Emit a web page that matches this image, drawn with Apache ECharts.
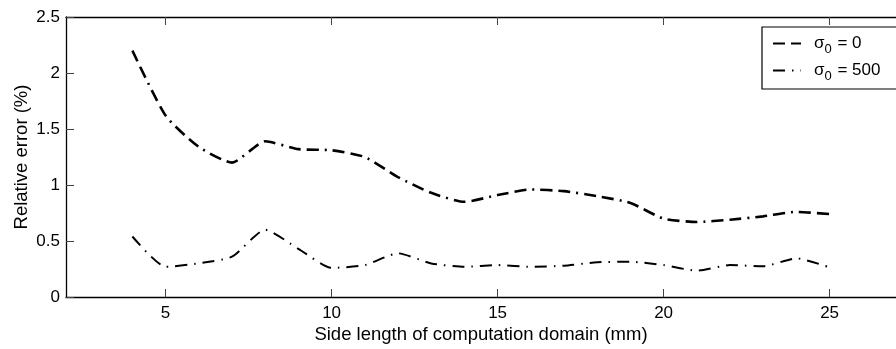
<!DOCTYPE html>
<html>
<head>
<meta charset="utf-8">
<script src="https://cdn.jsdelivr.net/npm/echarts@6/dist/echarts.min.js"></script>
<style>
  html, body { margin: 0; padding: 0; background: #fff; }
  #chart { width: 896px; height: 349px; }
</style>
</head>
<body>
<div id="chart"></div>
<script>
// side length of computation domain (mm)
const sideLength = [4, 5, 6, 7, 8, 9, 10, 11, 12, 13, 14, 15, 16, 17, 18, 19, 20, 21, 22, 23, 24, 25]
// relative error (%) for sigma0 = 0
const errSigma0 = [2.2, 1.62, 1.34, 1.2, 1.39, 1.32, 1.31, 1.25, 1.07, 0.93, 0.85, 0.91, 0.96, 0.945, 0.9, 0.84, 0.7, 0.67, 0.69, 0.72, 0.76, 0.74]
// relative error (%) for sigma0 = 500
const errSigma500 = [0.54, 0.27, 0.3, 0.36, 0.6, 0.43, 0.26, 0.285, 0.39, 0.3, 0.27, 0.285, 0.27, 0.28, 0.31, 0.315, 0.285, 0.235, 0.285, 0.275, 0.345, 0.265]
const xTicks = [5, 10, 15, 20, 25]
const legendNames = ['σ0 = 0', 'σ0 = 500']

const font = 'Liberation Sans, Arial, sans-serif'

const chart = echarts.init(document.getElementById('chart'))
chart.setOption({
  backgroundColor: '#ffffff',
  animation: false,
  textStyle: { fontFamily: font },
  grid: {
    left: 66,
    top: 17,
    right: -10,
    bottom: 52
  },
  legend: {
    data: legendNames,
    orient: 'vertical',
    left: 762,
    top: 27,
    padding: [8, 60, 6, 10],
    itemGap: 6,
    itemWidth: 28,
    itemHeight: 14,
    borderColor: '#000',
    borderWidth: 1.2,
    backgroundColor: '#fff',
    itemStyle: { opacity: 0 },
    formatter: name => {
      const v = name.split('= ')[1]
      return '{f|σ}{s|0}{a| = ' + v + '}'
    },
    textStyle: {
      color: '#000',
      rich: {
        f: { fontSize: 17, fontFamily: font, color: '#000', padding: [0, 0, 0, 8] },
        a: { fontSize: 17, fontFamily: font, color: '#000' },
        s: { fontSize: 13, fontFamily: font, color: '#000', padding: [12, 1, 0, 0] }
      }
    }
  },
  xAxis: [{
    type: 'value',
    min: 2,
    max: 27,
    name: 'Side length of computation domain (mm)',
    nameLocation: 'middle',
    nameGap: 28,
    nameMoveOverlap: false,
    nameTextStyle: { fontSize: 18.5, color: '#000', fontFamily: font },
    axisLine: { lineStyle: { color: '#000', width: 1.3 } },
    axisTick: { inside: true, length: 8, customValues: xTicks, lineStyle: { color: '#444' } },
    axisLabel: { customValues: xTicks, fontSize: 17, color: '#000', margin: 8 },
    splitLine: { show: false }
  }, {
    type: 'value',
    position: 'top',
    min: 2,
    max: 27,
    axisLine: { show: true, lineStyle: { color: '#000', width: 1.3 } },
    axisTick: { inside: true, length: 8, customValues: xTicks, lineStyle: { color: '#444' } },
    axisLabel: { show: false },
    splitLine: { show: false }
  }],
  yAxis: [{
    type: 'value',
    min: 0,
    max: 2.5,
    interval: 0.5,
    name: 'Relative error (%)',
    nameLocation: 'middle',
    nameGap: 35,
    nameMoveOverlap: false,
    nameTextStyle: { fontSize: 18.5, color: '#000', fontFamily: font },
    axisLine: { show: true, lineStyle: { color: '#000', width: 1.3 } },
    axisTick: { show: true, inside: true, length: 8, lineStyle: { color: '#444' } },
    axisLabel: { fontSize: 17, color: '#000', margin: 6, padding: [4, 0, 0, 0] },
    splitLine: { show: false }
  }],
  series: [{
    name: legendNames[0],
    type: 'line',
    symbol: 'none',
    smooth: 0.2,
    data: sideLength.map((x, i) => [x, errSigma0[i]]),
    itemStyle: { color: '#000' },
    lineStyle: { color: '#000', width: 2.6, type: [12, 6, 12, 6, 2, 6] }
  }, {
    name: legendNames[1],
    type: 'line',
    symbol: 'none',
    smooth: 0.2,
    data: sideLength.map((x, i) => [x, errSigma500[i]]),
    itemStyle: { color: '#000' },
    lineStyle: { color: '#000', width: 2, type: [12, 7, 1.5, 7] }
  }]
})
</script>
</body>
</html>
